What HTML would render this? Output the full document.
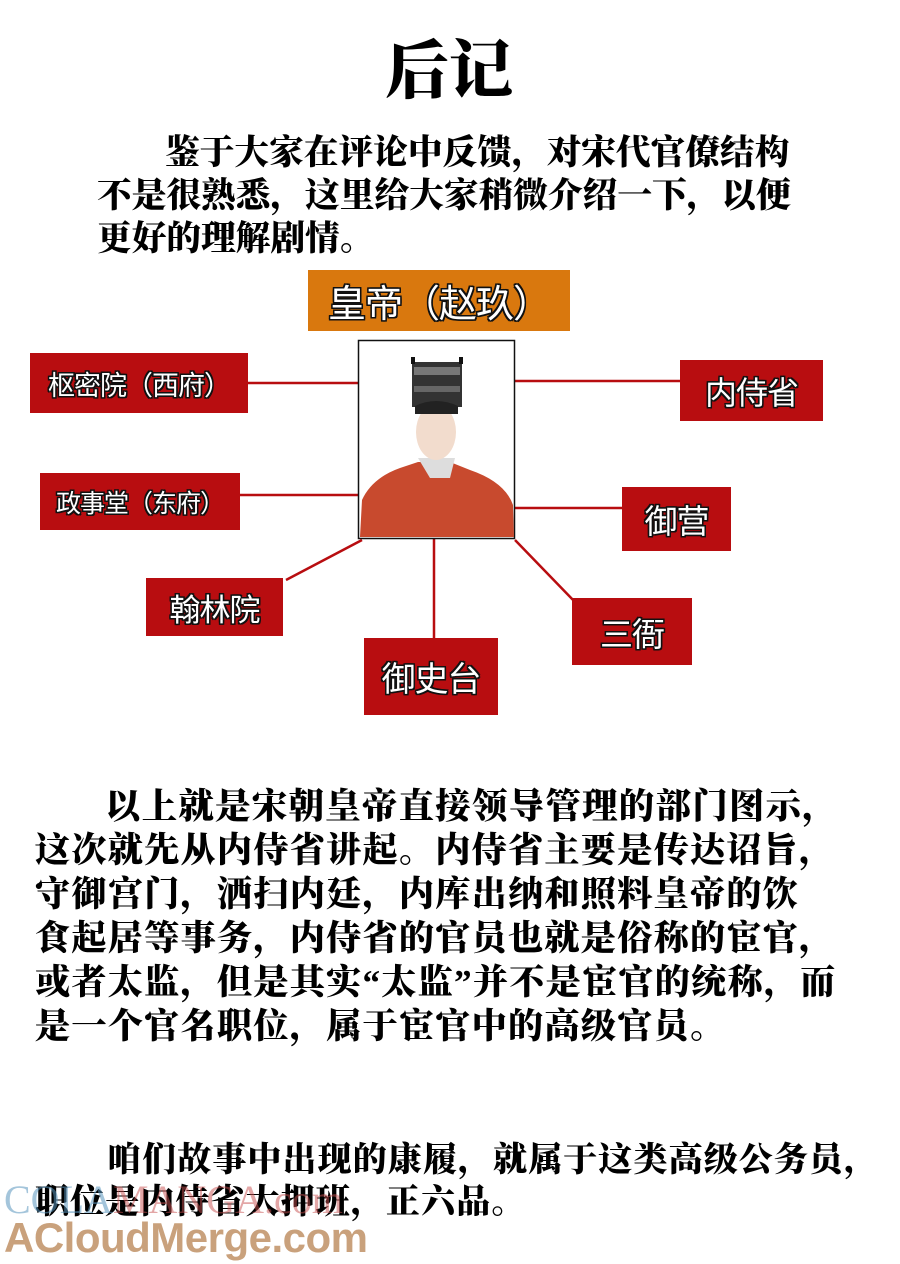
<!DOCTYPE html>
<html><head><meta charset="utf-8">
<style>
body{margin:0;background:#fff;}
#p{position:relative;width:900px;height:1264px;overflow:hidden;background:#fff;}
.t{position:absolute;white-space:nowrap;font-family:"Liberation Serif","Noto Serif CJK SC",serif;font-weight:900;color:#000;line-height:1;}
.b{position:absolute;background:#b80d10;color:#fff;font-family:"Liberation Sans","Noto Sans CJK SC",sans-serif;display:flex;align-items:center;justify-content:center;white-space:nowrap;letter-spacing:-1px;text-shadow:-1.5px -1.5px 0 #111,1.5px -1.5px 0 #111,-1.5px 1.5px 0 #111,1.5px 1.5px 0 #111,0 1.5px 0 #111,0 -1.5px 0 #111,1.5px 0 0 #111,-1.5px 0 0 #111;}
</style></head><body><div id="p">
<div class="t" style="left:385px;top:40px;font-size:64px;">后记</div>

<div class="t" style="left:165px;top:136px;font-size:34.7px;">鉴于大家在评论中反馈，对宋代官僚结构</div>
<div class="t" style="left:97px;top:179px;font-size:34.7px;">不是很熟悉，这里给大家稍微介绍一下，以便</div>
<div class="t" style="left:97px;top:222px;font-size:34.7px;">更好的理解剧情。</div>

<svg style="position:absolute;left:0;top:0" width="900" height="760">
<g stroke="#b80d10" stroke-width="2.5">
<line x1="248" y1="383" x2="358" y2="383"/>
<line x1="515" y1="381" x2="680" y2="381"/>
<line x1="240" y1="495" x2="358" y2="495"/>
<line x1="515" y1="508" x2="622" y2="508"/>
<line x1="362" y1="540" x2="286" y2="580"/>
<line x1="434" y1="538" x2="434" y2="638"/>
<line x1="515" y1="540" x2="575" y2="602"/>
</g>
<rect x="358.5" y="340.5" width="156" height="198" fill="#fff" stroke="#111" stroke-width="1.5"/>
<path d="M360 537 L362 500 Q372 478 400 468 L418 462 L450 462 L470 470 Q505 482 513 505 L514 537 Z" fill="#c84a2e"/>
<path d="M418 458 L430 478 L450 478 L455 458 Z" fill="#ddd"/>
<ellipse cx="436" cy="432" rx="20" ry="28" fill="#f2dccd"/>
<rect x="412" y="362" width="50" height="45" fill="#333"/>
<rect x="414" y="367" width="46" height="8" fill="#777"/>
<rect x="414" y="386" width="46" height="6" fill="#666"/>
<path d="M415 406 Q436 396 458 406 L458 414 L415 414Z" fill="#222"/>
<rect x="411" y="357" width="4" height="7" fill="#111"/><rect x="459" y="357" width="4" height="7" fill="#111"/>
</svg>

<div class="b" style="left:308px;top:270px;width:262px;height:61px;background:#d9780e;font-size:38px;">皇帝（赵玖）</div>
<div class="b" style="left:30px;top:353px;width:218px;height:60px;font-size:27px;">枢密院（西府）</div>
<div class="b" style="left:680px;top:360px;width:143px;height:61px;font-size:32px;">内侍省</div>
<div class="b" style="left:40px;top:473px;width:200px;height:57px;font-size:25px;">政事堂（东府）</div>
<div class="b" style="left:622px;top:487px;width:109px;height:64px;font-size:33px;">御营</div>
<div class="b" style="left:146px;top:578px;width:137px;height:58px;font-size:31px;">翰林院</div>
<div class="b" style="left:572px;top:598px;width:120px;height:67px;font-size:33px;">三衙</div>
<div class="b" style="left:364px;top:638px;width:134px;height:77px;font-size:34px;">御史台</div>

<div class="t" style="left:105px;top:789px;font-size:35.5px;letter-spacing:1.2px;">以上就是宋朝皇帝直接领导管理的部门图示，</div>
<div class="t" style="left:35px;top:833px;font-size:35.2px;letter-spacing:1.2px;">这次就先从内侍省讲起。内侍省主要是传达诏旨，</div>
<div class="t" style="left:35px;top:877px;font-size:35.2px;letter-spacing:1.2px;">守御宫门，洒扫内廷，内库出纳和照料皇帝的饮</div>
<div class="t" style="left:35px;top:921px;font-size:35.2px;letter-spacing:1.2px;">食起居等事务，内侍省的官员也就是俗称的宦官，</div>
<div class="t" style="left:35px;top:965px;font-size:35.2px;letter-spacing:1.2px;">或者太监，但是其实“太监”并不是宦官的统称，而</div>
<div class="t" style="left:35px;top:1009px;font-size:35.2px;letter-spacing:1.2px;">是一个官名职位，属于宦官中的高级官员。</div>

<div class="t" style="left:107px;top:1144px;font-size:34px;letter-spacing:1.1px;">咱们故事中出现的康履，就属于这类高级公务员，</div>
<div class="t" style="left:35px;top:1186px;font-size:34px;letter-spacing:1.1px;">职位是内侍省大押班，正六品。</div>

<div style="position:absolute;left:4px;top:1176px;font-family:'Liberation Serif',serif;font-size:40px;color:rgba(90,150,190,0.55);white-space:nowrap;">COLA<span style="color:rgba(200,80,80,0.5)">MANGA.com</span></div>
<div style="position:absolute;left:4px;top:1214px;font-family:'Liberation Sans',sans-serif;font-weight:bold;font-size:42px;color:#c9a17c;white-space:nowrap;letter-spacing:-0.5px;">ACloudMerge.com</div>
</div></body></html>
